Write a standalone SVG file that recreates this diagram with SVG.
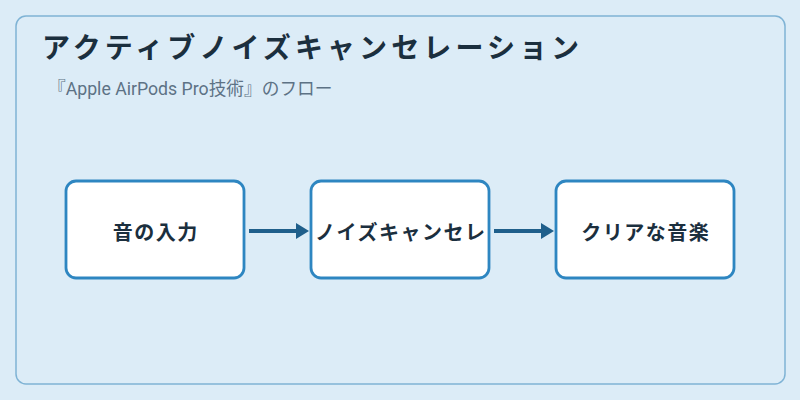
<svg xmlns="http://www.w3.org/2000/svg" width="800" height="400" viewBox="0 0 800 400">
<style>
.node rect{fill:#ffffff;stroke:#2e86c1;stroke-width:2.8}
.node text{font-family:"Noto Sans CJK JP","Noto Sans",sans-serif;font-size:20px;font-weight:bold;fill:#1b2f3e;text-anchor:middle;dominant-baseline:central;letter-spacing:1.5px}
.edge{stroke:#1f5f8b;stroke-width:4;fill:none}
</style>
<defs>
<marker id="ah" markerWidth="13" markerHeight="16" refX="0" refY="8" orient="auto" markerUnits="userSpaceOnUse">
<path d="M0,0 L13,8 L0,16 Z" fill="#1f5f8b"/>
</marker>
</defs>
<rect width="800" height="400" fill="#dcecf7"/>
<rect x="16" y="16" width="769" height="368" rx="10" fill="#dcecf7" stroke="#7fb3d5" stroke-width="1.5"/>
<text x="42" y="58" font-family="'Noto Sans CJK JP','Noto Sans',sans-serif" font-size="28" font-weight="bold" fill="#1b2f3e" letter-spacing="4.1">アクティブノイズキャンセレーション</text>
<text x="48" y="95" font-family="Roboto,'Noto Sans CJK JP',sans-serif" font-size="17.7" fill="#5d7285">『Apple AirPods Pro技術』のフロー</text>
<g id="edges">
<line class="edge" x1="249" y1="231" x2="296" y2="231" marker-end="url(#ah)"/>
<line class="edge" x1="494" y1="231" x2="541" y2="231" marker-end="url(#ah)"/>
</g>
<g id="node1" class="node"><rect x="66" y="181" width="178" height="97" rx="10"/><text x="155.75" y="231">音の入力</text></g>
<g id="node2" class="node"><rect x="311" y="181" width="178" height="97" rx="10"/><text x="400.75" y="231">ノイズキャンセレ</text></g>
<g id="node3" class="node"><rect x="556" y="181" width="178" height="97" rx="10"/><text x="645.75" y="231">クリアな音楽</text></g>
</svg>
